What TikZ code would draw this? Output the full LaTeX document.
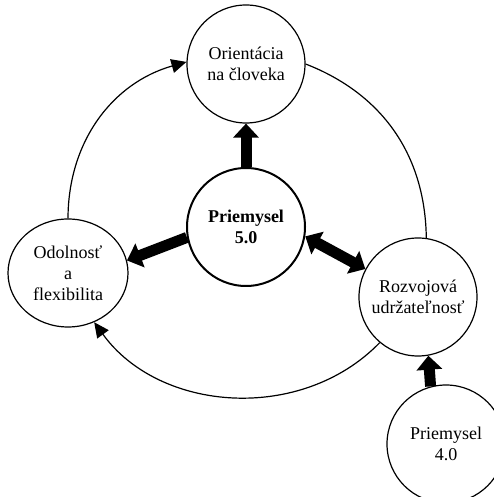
\documentclass[tikz,border=0pt]{standalone}
\usepackage{fontspec}
\setmainfont{Liberation Serif}
\usetikzlibrary{arrows.meta,shapes.geometric}
\begin{document}
\begin{tikzpicture}[x=1pt,y=1pt,
  concept/.style={circle, draw, line width=1.2pt, fill=white, minimum size=118pt,
    inner sep=0pt, align=center, font=\fontsize{18}{21}\selectfont},
  core/.style={concept, line width=2pt, font=\bfseries\fontsize{18}{21}\selectfont},
  oval/.style={concept, ellipse, minimum width=120pt, minimum height=108pt},
  cycleline/.style={line width=1.2pt},
  cyclearrow/.style={cycleline, -{Triangle[length=15pt,width=14pt]}},
  push/.style={line width=11pt, -{Triangle[length=14pt,width=25pt]}},
  mutual/.style={line width=11pt,
    {Triangle[length=14pt,width=25pt]}-{Triangle[length=14pt,width=25pt]}}
]
\clip (0,0) rectangle (494,497);
\useasboundingbox (0,0) rectangle (494,497);

% concepts
\node[concept] (T) at (246,433) {Orientácia\\na človeka};
\node[core]    (C) at (246,270) {Priemysel\\5.0};
\node[oval]    (L) at (68,224)  {Odolnosť\\a\\flexibilita};
\node[concept] (R) at (418,200) {Rozvojová\\udržateľnosť};
\node[concept] (B) at (446,53)  {Priemysel\\4.0};

% outer cycle
\draw[cyclearrow] (L.north) to[bend left=37] (T.178);
\draw[cycleline]  (T.east)  to[bend left=34] (R.82);
\draw[cyclearrow] (R.230)   to[bend left=50] (L.298);

% links from the core
\draw[push]   (C.north) -- (T.south);
\draw[push]   (C.190)   -- (L.12);
\draw[mutual] (C.351)   -- (R.152);
\draw[push]   (B.105)   -- (R.280);
\end{tikzpicture}
\end{document}
